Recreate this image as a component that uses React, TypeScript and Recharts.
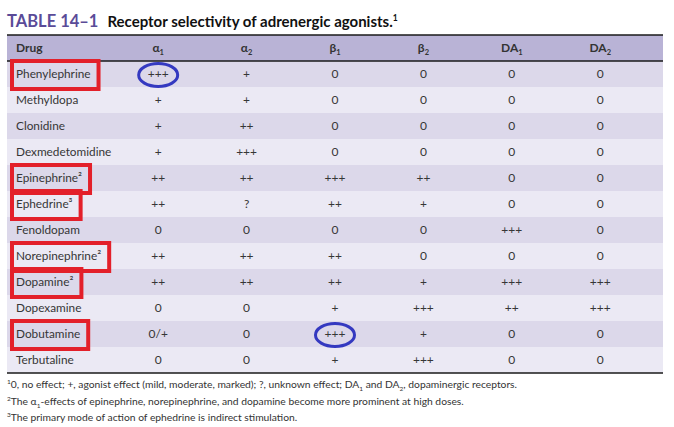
import { useLayoutEffect, useRef, useState } from "react";
import { ScatterChart, Scatter, XAxis, YAxis, ReferenceArea, ReferenceLine } from "recharts";

// rows of the table (footnote marks kept in the names)
const drugs = [
  "Phenylephrine",
  "Methyldopa",
  "Clonidine",
  "Dexmedetomidine",
  "Epinephrine²",
  "Ephedrine³",
  "Fenoldopam",
  "Norepinephrine²",
  "Dopamine²",
  "Dopexamine",
  "Dobutamine",
  "Terbutaline",
];

const receptors = ["α1", "α2", "β1", "β2", "DA1", "DA2"];

const alpha1 = ["+++", "+", "+", "+", "++", "++", "0", "++", "++", "0", "0/+", "0"];
const alpha2 = ["+", "+", "++", "+++", "++", "?", "0", "++", "++", "0", "0", "0"];
const beta1 = ["0", "0", "0", "0", "+++", "++", "0", "++", "++", "+", "+++", "+"];
const beta2 = ["0", "0", "0", "0", "++", "+", "0", "0", "+", "+++", "+", "+++"];
const da1 = ["0", "0", "0", "0", "0", "0", "+++", "0", "+++", "++", "0", "0"];
const da2 = ["0", "0", "0", "0", "0", "0", "0", "0", "+++", "+++", "0", "0"];

// hand-drawn marks on the scan
const boxed = ["Phenylephrine", "Epinephrine²", "Ephedrine³", "Norepinephrine²", "Dopamine²", "Dobutamine"];
const circled = [
  ["Phenylephrine", "α1"],
  ["Dobutamine", "β1"],
];

const columns = [alpha1, alpha2, beta1, beta2, da1, da2];
const rowLabels = ["Drug", ...drugs];
const X_DOMAIN: [number, number] = [-0.71, 6.71];

const headerCells = receptors.map((r, j) => ({ row: 0, col: j + 1, text: r, header: true }));
const bodyCells = drugs.flatMap((d, i) =>
  receptors.map((r, j) => ({
    row: i + 1,
    col: j + 1,
    text: columns[j][i],
    header: false,
    circled: circled.some(([cd, cr]) => cd === d && cr === r),
  }))
);
// drug names sit at the left edge of the table
const labelCells = rowLabels.map((d, i) => ({ row: i, col: X_DOMAIN[0], text: d, boxed: boxed.includes(d) }));

const FONT = "Lato, 'Open Sans', sans-serif";
const TEXT = "#363636";
const HEADER_BG = "#b9b3d6";
const ROW_DARK = "#dcd8ea";
const ROW_LIGHT = "#ebe9f4";

function CellShape(props: any) {
  const { cx, cy, payload } = props;
  if (cx == null || cy == null) return null;
  if (payload.header) {
    const base = payload.text.slice(0, -1);
    const sub = payload.text.slice(-1);
    return (
      <text x={cx} y={cy} dy="0.35em" textAnchor="middle" fontFamily={FONT} fontWeight={700} fontSize={12} fill="#333">
        {base}
        <tspan fontSize={7.5} dy={3}>
          {sub}
        </tspan>
      </text>
    );
  }
  return (
    <g>
      <text x={cx} y={cy} dy="0.35em" textAnchor="middle" fontFamily={FONT} fontSize={12} fill={TEXT}>
        {payload.text}
      </text>
      {payload.circled && (
        <ellipse cx={cx} cy={cy + 1} rx={19.5} ry={11.5} fill="none" stroke="#3439c0" strokeWidth={3} />
      )}
    </g>
  );
}

function DrugLabel(props: any) {
  const { cx, cy, payload } = props;
  const ref = useRef<SVGTextElement>(null);
  const [w, setW] = useState(0);
  useLayoutEffect(() => {
    if (ref.current) setW(ref.current.getBBox().width);
  }, [payload.text]);
  if (cx == null || cy == null) return null;
  const isHeader = payload.row === 0;
  const tx = cx + 9;
  return (
    <g>
      <text
        ref={ref}
        x={tx}
        y={cy}
        dy="0.35em"
        textAnchor="start"
        fontFamily={FONT}
        fontSize={isHeader ? 12 : 11.8}
        fontWeight={isHeader ? 700 : 400}
        fill={isHeader ? "#333" : TEXT}
      >
        {payload.text}
      </text>
      {payload.boxed && w > 0 && (
        <rect x={tx - 4} y={cy - 13} width={w + 12} height={28} fill="none" stroke="#e3202a" strokeWidth={4} />
      )}
    </g>
  );
}

export default function App() {
  return (
    <div style={{ position: "absolute", left: 0, top: 0, width: 674, height: 427, background: "#fff" }}>
      <div
        style={{
          position: "absolute",
          left: 7,
          top: 11,
          whiteSpace: "nowrap",
          fontFamily: FONT,
          fontWeight: 700,
          lineHeight: "20px",
        }}
      >
        <span style={{ color: "#5a4b98", fontSize: 16.5, marginRight: 9 }}>TABLE 14–1</span>
        <span style={{ color: "#111", fontSize: 15 }}>
          Receptor selectivity of adrenergic agonists.
          <sup style={{ fontSize: 8.5, lineHeight: 0 }}>1</sup>
        </span>
      </div>

      <ScatterChart width={674} height={427} margin={{ top: 35, right: 11, bottom: 54, left: 7 }}>
        {rowLabels.map((_, i) => (
          <ReferenceArea
            key={`row-${i}`}
            y1={i - 0.5}
            y2={i + 0.5}
            fill={i === 0 ? HEADER_BG : i % 2 === 1 ? ROW_DARK : ROW_LIGHT}
            fillOpacity={1}
            stroke="none"
            ifOverflow="visible"
          />
        ))}
        <XAxis type="number" dataKey="col" domain={X_DOMAIN} hide />
        <YAxis type="number" dataKey="row" domain={[-0.5, rowLabels.length - 0.5]} reversed hide />
        <ReferenceLine y={-0.5} stroke="#1a1a1a" strokeWidth={1.3} ifOverflow="visible" />
        <ReferenceLine y={0.5} stroke="#1a1a1a" strokeWidth={1.3} ifOverflow="visible" />
        <ReferenceLine y={rowLabels.length - 0.5} stroke="#1a1a1a" strokeWidth={1.3} ifOverflow="visible" />
        <Scatter data={[...headerCells, ...bodyCells]} shape={CellShape} isAnimationActive={false} />
        <Scatter data={labelCells} shape={(p: any) => <DrugLabel {...p} />} isAnimationActive={false} />
      </ScatterChart>

      <div
        style={{
          position: "absolute",
          left: 7,
          top: 376,
          fontFamily: FONT,
          fontSize: 10.3,
          lineHeight: "16.5px",
          color: "#333",
          whiteSpace: "nowrap",
        }}
      >
        <div>
          <sup style={{ fontSize: 6.5, lineHeight: 0 }}>1</sup>0, no effect; +, agonist effect (mild, moderate, marked); ?,
          unknown effect; DA<sub style={{ fontSize: 6.5, lineHeight: 0 }}>1</sub> and DA
          <sub style={{ fontSize: 6.5, lineHeight: 0 }}>2</sub>, dopaminergic receptors.
        </div>
        <div>
          <sup style={{ fontSize: 6.5, lineHeight: 0 }}>2</sup>The α<sub style={{ fontSize: 6.5, lineHeight: 0 }}>1</sub>
          -effects of epinephrine, norepinephrine, and dopamine become more prominent at high doses.
        </div>
        <div>
          <sup style={{ fontSize: 6.5, lineHeight: 0 }}>3</sup>The primary mode of action of ephedrine is indirect
          stimulation.
        </div>
      </div>
    </div>
  );
}
